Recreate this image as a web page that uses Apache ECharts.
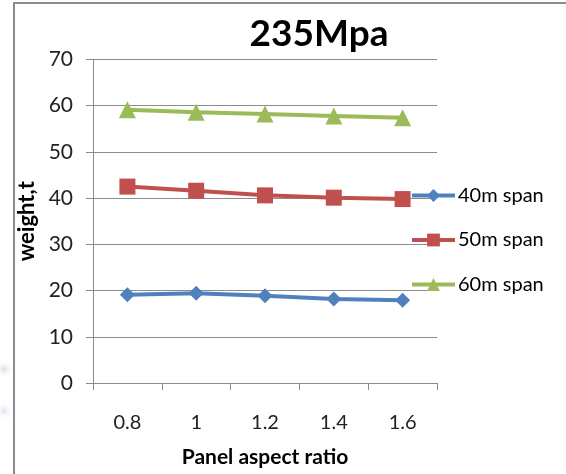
<!DOCTYPE html>
<html><head><meta charset="utf-8">
<script src="https://cdn.jsdelivr.net/npm/echarts@6/dist/echarts.min.js"></script>
<style>html,body{margin:0;padding:0;background:#fff}#c{width:566px;height:474px}</style>
</head><body><div id="c"></div>
<script>
const categories = ['0.8', '1', '1.2', '1.4', '1.6'];
const span40 = [19.1, 19.4, 18.9, 18.2, 17.9];
const span50 = [42.5, 41.6, 40.6, 40.1, 39.8];
const span60 = [59.1, 58.6, 58.2, 57.8, 57.4];
const seriesNames = ['40m span', '50m span', '60m span'];
const titleText = '235Mpa';
const xName = 'Panel aspect ratio';
const yName = 'weight,t';

const FONT = 'Lato';
const blob = (c) => new echarts.graphic.RadialGradient(0.3, 0.5, 0.7, [
  {offset: 0, color: c}, {offset: 1, color: 'rgba(255,255,255,0)'}]);
const chart = echarts.init(document.getElementById('c'), null, {renderer: 'canvas'});
chart.setOption({
  animation: false,
  backgroundColor: '#fff',
  graphic: [
    {type: 'rect', shape: {x: 0, y: 352, width: 14, height: 34}, style: {fill: blob('rgba(180,180,190,0.45)')}, silent: true},
    {type: 'rect', shape: {x: 0, y: 394, width: 14, height: 34}, style: {fill: blob('rgba(180,180,225,0.4)')}, silent: true},
    {type: 'rect', shape: {x: 14, y: 3, width: 600, height: 520},
     style: {fill: 'none', stroke: '#8c8c8c', lineWidth: 2}, silent: true}
  ],
  title: {
    text: titleText, left: 314, top: 11, textAlign: 'center',
    textStyle: {fontFamily: FONT, fontWeight: 'bold', fontSize: 37, color: '#000'}
  },
  grid: {left: 93, right: 129, top: 59.5, bottom: 91, containLabel: false},
  legend: {
    orient: 'vertical', left: 410, top: 185, padding: 0,
    itemWidth: 43, itemHeight: 16, itemGap: 23.5,
    lineStyle: {width: 4},
    textStyle: {fontFamily: FONT, fontSize: 20, lineHeight: 21, color: '#000', padding: [0, 0, 0, -2]},
    data: seriesNames
  },
  xAxis: {
    type: 'category', data: categories, boundaryGap: true,
    name: xName, nameLocation: 'middle', nameGap: 64,
    nameTextStyle: {fontFamily: FONT, fontWeight: 'bold', fontSize: 21, color: '#000'},
    axisLine: {lineStyle: {color: '#8c8c8c', width: 1}},
    axisTick: {show: true, length: 7, lineStyle: {color: '#8c8c8c'}},
    axisLabel: {fontFamily: FONT, fontSize: 20, color: '#222', margin: 30}
  },
  yAxis: {
    type: 'value', min: 0, max: 70, interval: 10,
    name: yName, nameLocation: 'middle', nameGap: 48, nameRotate: 90,
    nameTextStyle: {fontFamily: FONT, fontWeight: 'bold', fontSize: 22, color: '#000'},
    axisLine: {show: true, lineStyle: {color: '#8c8c8c', width: 1}},
    axisTick: {show: true, length: 7, lineStyle: {color: '#8c8c8c'}},
    splitLine: {lineStyle: {color: '#8c8c8c', width: 1}},
    axisLabel: {fontFamily: FONT, fontSize: 21, color: '#222', margin: 20}
  },
  series: [
    {name: seriesNames[0], type: 'line', data: span40, symbol: 'diamond', symbolSize: 15,
     lineStyle: {width: 4, color: '#4F81BD'}, itemStyle: {color: '#4F81BD'}},
    {name: seriesNames[1], type: 'line', data: span50, symbol: 'rect', symbolSize: 16,
     lineStyle: {width: 4, color: '#C0504D'}, itemStyle: {color: '#C0504D'}},
    {name: seriesNames[2], type: 'line', data: span60, symbol: 'triangle', symbolSize: 17,
     lineStyle: {width: 4, color: '#9BBB59'}, itemStyle: {color: '#9BBB59'}}
  ]
});
</script></body></html>
